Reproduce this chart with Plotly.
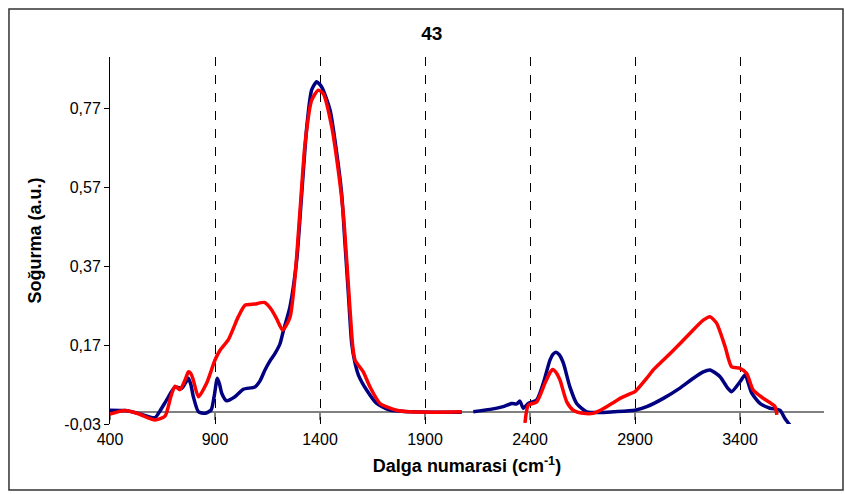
import plotly.graph_objects as go

# ---- data ----
navy_x = [400, 471, 535, 614, 640, 670, 710, 741, 760, 773, 785, 797, 821, 852, 881, 896,
          911, 922, 932, 955, 995, 1035, 1090, 1115, 1138, 1162, 1186, 1210, 1225, 1257,
          1289, 1313, 1337, 1360, 1384, 1408, 1448, 1480, 1503, 1519, 1535, 1551, 1567,
          1583, 1622, 1670, 1733, 1829, 1950, 2075,
          None,
          2130, 2210, 2273, 2313, 2337, 2352, 2368, 2392, 2432, 2463, 2495, 2510, 2524,
          2540, 2559, 2590, 2622, 2670, 2733, 2797, 2900, 2956, 3035, 3114, 3178, 3225,
          3257, 3305, 3340, 3360, 3400, 3424, 3456, 3495, 3543, 3590, 3614, 3638]
navy_y = [0.005, 0.004, -0.003, -0.014, 0.005, 0.031, 0.064, 0.060, 0.075, 0.086, 0.070,
          0.039, 0.001, -0.003, 0.005, 0.040, 0.086, 0.070, 0.048, 0.029, 0.039, 0.058,
          0.064, 0.080, 0.107, 0.130, 0.149, 0.174, 0.205, 0.267, 0.385, 0.554, 0.723,
          0.816, 0.837, 0.824, 0.765, 0.655, 0.554, 0.428, 0.301, 0.174, 0.124, 0.094,
          0.056, 0.022, 0.005, 0.001, 0.000, 0.000,
          None,
          0.001, 0.007, 0.014, 0.022, 0.021, 0.028, 0.010, 0.022, 0.031, 0.073, 0.132,
          0.147, 0.152, 0.145, 0.124, 0.064, 0.022, 0.001, -0.001, 0.001, 0.005, 0.014,
          0.035, 0.061, 0.086, 0.102, 0.107, 0.090, 0.062, 0.052, 0.077, 0.094, 0.048,
          0.022, 0.010, 0.005, -0.016, -0.033]

red_x = [400, 471, 535, 614, 662, 690, 710, 733, 760, 773, 785, 797, 821, 860, 900, 924,
         963, 1011, 1043, 1090, 1135, 1170, 1195, 1222, 1257, 1281, 1305, 1329, 1360,
         1392, 1416, 1456, 1487, 1511, 1527, 1543, 1556, 1567, 1606, 1638, 1686, 1765,
         1829, 1950, 2075,
         None,
         2376, 2392, 2432, 2471, 2495, 2508, 2525, 2543, 2575, 2606, 2654, 2700, 2740,
         2765, 2800, 2829, 2870, 2900, 2956, 2987, 3035, 3083, 3162, 3225, 3257, 3289,
         3329, 3360, 3400, 3432, 3463, 3511, 3567, 3575]
red_y = [-0.005, 0.004, -0.004, -0.020, -0.010, 0.040, 0.066, 0.057, 0.085, 0.102, 0.098,
         0.081, 0.039, 0.073, 0.132, 0.157, 0.183, 0.242, 0.271, 0.274, 0.278, 0.259,
         0.235, 0.208, 0.240, 0.343, 0.512, 0.681, 0.790, 0.816, 0.807, 0.723, 0.613,
         0.503, 0.385, 0.259, 0.166, 0.132, 0.102, 0.064, 0.022, 0.005, 0.001, 0.000,
         0.001,
         None,
         -0.027, 0.018, 0.026, 0.073, 0.100, 0.108, 0.100, 0.081, 0.026, 0.005, -0.003,
         -0.003, 0.006, 0.014, 0.025, 0.035, 0.045, 0.052, 0.086, 0.107, 0.132, 0.157,
         0.200, 0.233, 0.242, 0.225, 0.166, 0.115, 0.111, 0.098, 0.056, 0.035, 0.014,
         -0.007]

x_ticks = [400, 900, 1400, 1900, 2400, 2900, 3400]
x_tick_text = ["400", "900", "1400", "1900", "2400", "2900", "3400"]
y_ticks = [-0.03, 0.17, 0.37, 0.57, 0.77]
y_tick_text = ["-0,03", "0,17", "0,37", "0,57", "0,77"]

FONT = "Liberation Sans, Arial, sans-serif"

fig = go.Figure()
fig.add_trace(go.Scatter(x=navy_x, y=navy_y, mode="lines",
                         line=dict(color="#000080", width=3.5, shape="spline",
                                   smoothing=0.6),
                         connectgaps=False, showlegend=False))
fig.add_trace(go.Scatter(x=red_x, y=red_y, mode="lines",
                         line=dict(color="#FF0000", width=3.5, shape="spline",
                                   smoothing=0.6),
                         connectgaps=False, showlegend=False))

# small tick marks crossing the zero line (from the tick list)
for t in x_ticks:
    fig.add_shape(type="line", xref="x", yref="y", x0=t, x1=t, y0=0, y1=-0.02,
                  line=dict(color="black", width=1), layer="below")

# outer border of the chart
fig.add_shape(type="rect", xref="paper", yref="paper",
              x0=-0.1415, x1=1.0266, y0=-0.1798, y1=1.1308,
              line=dict(color="#333333", width=1.5))

fig.update_layout(
    width=845, height=494,
    margin=dict(l=110, r=21, t=57, b=70),
    paper_bgcolor="white", plot_bgcolor="white",
    font=dict(family=FONT, size=16, color="black"),
    title=dict(text="<b>43</b>", x=0.511, xref="container", y=0.933,
               yref="container", xanchor="center", yanchor="middle",
               font=dict(family=FONT, size=19, color="black")),
    xaxis=dict(range=[400, 3800], tickvals=x_ticks, ticktext=x_tick_text,
               showgrid=True, gridcolor="black", griddash="dash", gridwidth=1,
               zeroline=False, showline=False, ticks="", ticklabelstandoff=4,
               tickfont=dict(family=FONT, size=16, color="black"),
               title=dict(text="<b>Dalga numarasi (cm<sup>-1</sup>)</b>",
                          font=dict(family=FONT, size=18, color="black"),
                          standoff=12)),
    yaxis=dict(range=[-0.03, 0.9], tickvals=y_ticks, ticktext=y_tick_text,
               showgrid=False, zeroline=True, zerolinecolor="#808080",
               zerolinewidth=1.5, showline=True, linecolor="black", linewidth=1,
               ticks="outside", ticklen=5, tickcolor="black",
               tickfont=dict(family=FONT, size=16, color="black"),
               title=dict(text="<b>Soğurma (a.u.)</b>",
                          font=dict(family=FONT, size=18, color="black"),
                          standoff=18)),
)

fig.write_html("out.html")
